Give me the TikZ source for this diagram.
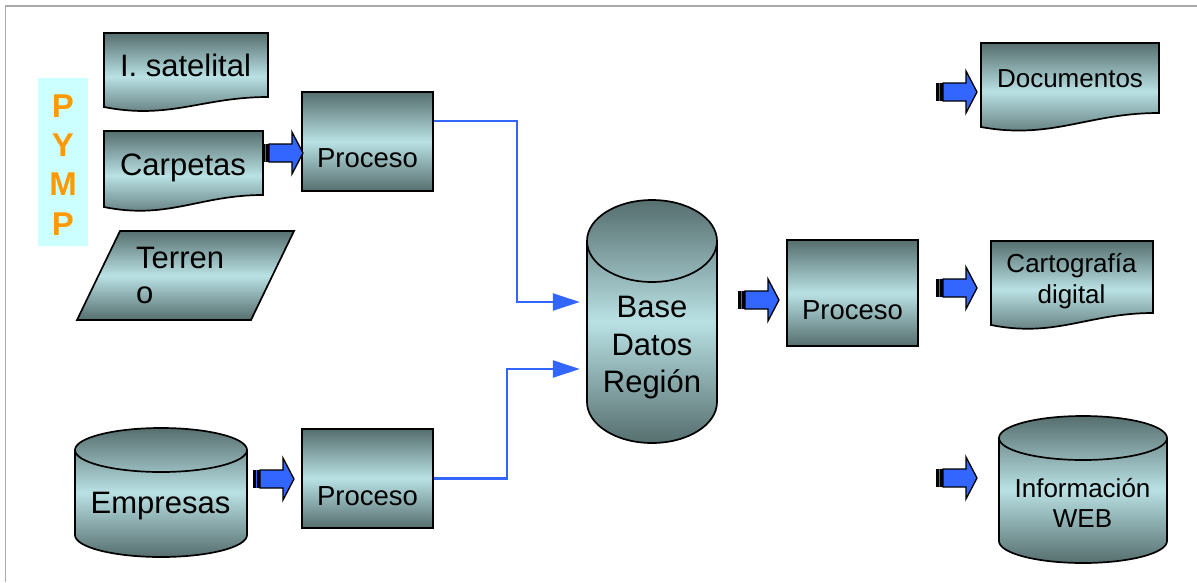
\documentclass[tikz,border=0pt]{standalone}
\usepackage{fontspec}
\setmainfont{Liberation Sans}
\usetikzlibrary{calc,arrows.meta}
\definecolor{gdark}{RGB}{86,110,110}
\definecolor{glight}{RGB}{185,225,228}
\definecolor{ablue}{RGB}{51,102,255}
\definecolor{pympfill}{RGB}{204,255,255}
\definecolor{orng}{RGB}{255,153,0}
\definecolor{framegray}{RGB}{170,170,170}
\tikzset{
  grad/.style={top color=gdark, bottom color=gdark, middle color=glight, draw=black, line width=1.7pt, line join=round},
  outline/.style={draw=black, line width=1.7pt},
  procbox/.style={grad, line width=2pt, line join=miter, rectangle, minimum width=131pt, minimum height=99pt, inner sep=0pt},
  holder/.style={rectangle, inner sep=0pt},
  bigtxt/.style={font=\fontsize{31}{36}\selectfont, inner sep=0pt, anchor=base},
  proctxt/.style={font=\fontsize{27.5}{32}\selectfont, inner sep=0pt, anchor=base},
  smalltxt/.style={font=\fontsize{26}{30}\selectfont, inner sep=0pt, anchor=base},
  pymptxt/.style={font=\fontsize{33}{36}\selectfont\bfseries, text=orng, inner sep=0pt, anchor=base},
  flow/.style={draw=ablue, line width=2.3pt, -{Triangle[length=27pt,width=17pt]}},
  fatarrow/.pic={
    \fill[black] (0,-9) rectangle (7,9);
    \fill[ablue] (3.2,-9) rectangle (4.4,9);
    \filldraw[fill=ablue, draw=black, line width=1.3pt, line join=miter] (7,-9) -- (30,-9) -- (30,-21) -- (41,0) -- (30,21) -- (30,9) -- (7,9) -- cycle;
  }
}
% document shape: x1, x2, top, y right bottom, y left bottom
\newcommand\docshape[5]{%
  \path[grad, line join=miter] (#1,#3) -- (#2,#3) -- (#2,#4) .. controls ({#1+0.6*(#2-#1)},#4) and ({#1+0.4*(#2-#1)},{#5+13}) .. (#1,#5) -- cycle;
}
% cylinder: x1, x2, y top-ellipse centre, y bottom-ellipse centre, y radius
\newcommand\cylshape[5]{%
  \path[grad] (#1,#3) -- (#1,#4)
    .. controls (#1,{#4+0.5523*#5}) and ({(#1+#2)/2-0.27615*(#2-#1)},{#4+#5}) .. ({(#1+#2)/2},{#4+#5})
    .. controls ({(#1+#2)/2+0.27615*(#2-#1)},{#4+#5}) and (#2,{#4+0.5523*#5}) .. (#2,#4)
    -- (#2,#3)
    .. controls (#2,{#3-0.5523*#5}) and ({(#1+#2)/2+0.27615*(#2-#1)},{#3-#5}) .. ({(#1+#2)/2},{#3-#5})
    .. controls ({(#1+#2)/2-0.27615*(#2-#1)},{#3-#5}) and (#1,{#3-0.5523*#5}) .. (#1,#3) -- cycle;
  \draw[outline] (#1,#3)
    .. controls (#1,{#3+0.5523*#5}) and ({(#1+#2)/2-0.27615*(#2-#1)},{#3+#5}) .. ({(#1+#2)/2},{#3+#5})
    .. controls ({(#1+#2)/2+0.27615*(#2-#1)},{#3+#5}) and (#2,{#3+0.5523*#5}) .. (#2,#3);
}
\begin{document}
\begin{tikzpicture}[x=1pt,y=-1pt]
\useasboundingbox (0,0) rectangle (1197,582);
% frame
\draw[framegray, line width=1.5pt] (5.5,582) -- (5.5,6) -- (1197,6);

% PYMP
\node[holder, fill=pympfill, minimum width=50pt, minimum height=168pt] (pympbox) at (63,162) {};
\node[pymptxt] (pl1) at (63,117) {P};
\node[pymptxt] (pl2) at (63,156) {Y};
\node[pymptxt] (pl3) at (63,195) {M};
\node[pymptxt] (pl4) at (63,235) {P};

% left column
\docshape{104}{268}{33}{97}{107}
\node[bigtxt] (sat) at (185.5,76) {I. satelital};
\docshape{104}{263}{131}{195}{207}
\node[bigtxt] (carp) at (183,175) {Carpetas};
\path[grad, line join=miter] (77,320) -- (120,231) -- (294,231) -- (251,320) -- cycle;
\node[bigtxt, anchor=base west] (ter1) at (136,268) {Terren};
\node[bigtxt, anchor=base west] (ter2) at (136,303) {o};
\cylshape{75}{247}{450}{535}{22}
\node[holder, minimum width=172pt, minimum height=130pt] (emp) at (161,493) {};
\node[bigtxt] (empt) at (160.5,513) {Empresas};

% process boxes
\node[procbox] (p1) at (367.5,141.5) {};
\node[proctxt] (p1t) at (367.5,167) {Proceso};
\node[procbox] (p2) at (367.5,478.5) {};
\node[proctxt] (p2t) at (367.5,505) {Proceso};
\node[procbox, minimum height=106pt] (p3) at (852.5,293) {};
\node[proctxt] (p3t) at (852.5,319) {Proceso};

% central database
\cylshape{587}{717}{241}{402}{41}
\node[holder, minimum width=130pt, minimum height=244pt] (base) at (652,321) {};
\node[bigtxt] (bt1) at (652,317) {Base};
\node[bigtxt] (bt2) at (652,355) {Datos};
\node[bigtxt] (bt3) at (652,392) {Región};

% outputs
\docshape{981}{1159}{43}{113}{127}
\node[smalltxt] (doct) at (1070,87) {Documentos};
\docshape{991}{1153}{241}{313}{325}
\node[smalltxt] (cart1) at (1071.5,272) {Cartografía};
\node[smalltxt] (cart2) at (1071.5,303) {digital};
\cylshape{999}{1167}{438}{541}{22}
\node[holder, minimum width=168pt, minimum height=147pt] (web) at (1083,489.5) {};
\node[smalltxt] (web1) at (1082.5,497) {Información};
\node[smalltxt] (web2) at (1082.5,527) {WEB};

% block arrows
\pic at (262,153) {fatarrow};
\pic at (253,479) {fatarrow};
\pic at (738,300) {fatarrow};
\pic at (936,92) {fatarrow};
\pic at (936,288) {fatarrow};
\pic at (936,478) {fatarrow};

% connectors
\coordinate (c1) at ($(p1.north east)!0.3!(p1.south east)$);
\coordinate (in1) at ($(base.west)+(-7,-19)$);
\coordinate (in2) at ($(base.west)+(-7,48)$);
\draw[flow] (c1) -| ($(in1)+(-63,0)$) -- (in1);
\draw[flow] (p2.east) -| ($(in2)+(-73,0)$) -- (in2);
\end{tikzpicture}
\end{document}
